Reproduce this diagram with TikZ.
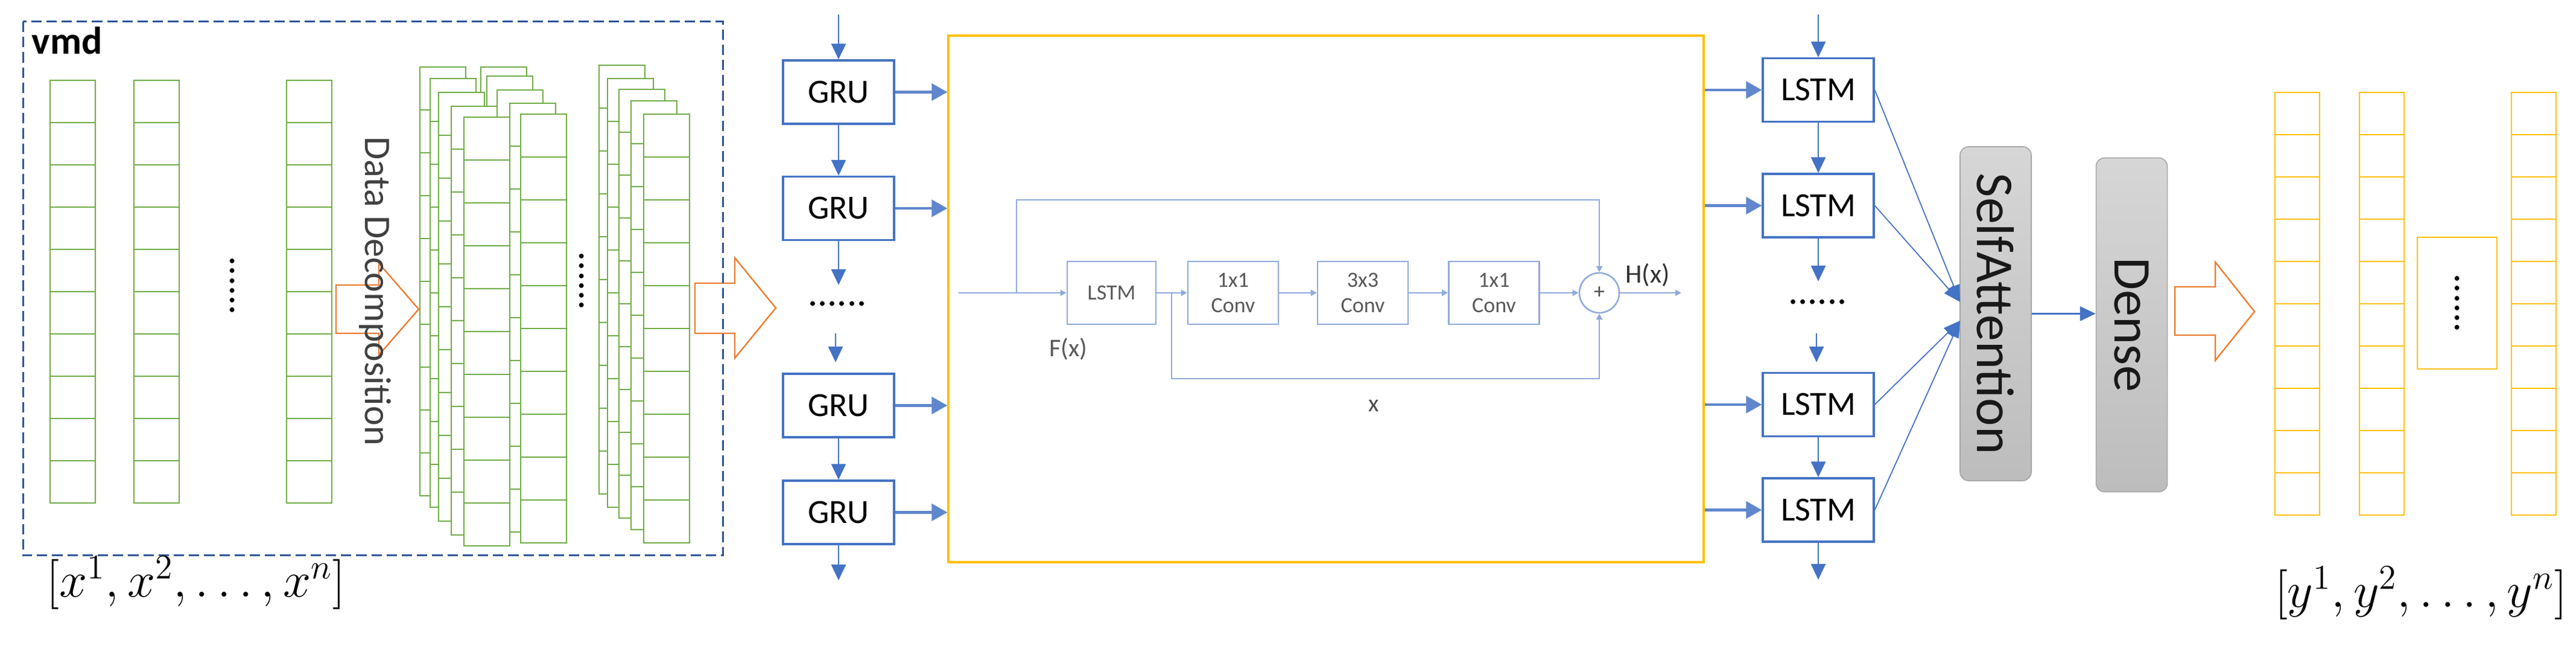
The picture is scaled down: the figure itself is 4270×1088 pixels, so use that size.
\documentclass[tikz,border=0pt]{standalone}
\usepackage[no-math]{fontspec}
\setmainfont{Carlito}
\usetikzlibrary{arrows.meta}

\definecolor{cgreen}{HTML}{70AD47}
\definecolor{cyellow}{HTML}{FFC000}
\definecolor{corange}{HTML}{ED7D31}
\definecolor{cblue}{HTML}{4472C4}
\definecolor{clight}{HTML}{8FAADC}
\definecolor{cdash}{HTML}{2F5597}
\definecolor{ctext}{HTML}{404040}

\begin{document}
\begin{tikzpicture}[
  x=0.25pt, y=-0.25pt,
  gcell/.style={draw=cgreen, fill=white, line width=0.7pt},
  ycell/.style={draw=cyellow, fill=white, line width=0.7pt},
  gcol/.pic={\foreach \k in {0,...,9} \draw[gcell] (0,70*\k) rectangle ++(75,70);},
  scol/.pic={\foreach \k in {0,...,9} \draw[gcell] (0,71*\k) rectangle ++(76,71);},
  ycol/.pic={\foreach \k in {0,...,9} \draw[ycell] (0,70*\k) rectangle ++(74,70);},
  barrow/.style={cblue, line width=0.65pt, -{Triangle[length=6.5pt,width=6pt]}},
  warrow/.style={cblue!85!white, line width=1.1pt, -{Triangle[length=6.5pt,width=7pt]}},
  carrow/.style={cblue, line width=0.45pt, -{Triangle[length=7pt,width=5pt]}},
  rline/.style={clight, line width=0.65pt, -{Triangle[length=2.5pt,width=2.5pt]}},
  bigarrow/.style={draw=corange, fill=white, line width=0.6pt},
  rnn/.style={draw=cblue, line width=0.8pt, minimum width=46pt, minimum height=26.25pt,
    inner sep=0pt, font=\fontsize{14}{16}\selectfont},
  rbox/.style={draw=clight, line width=0.65pt, minimum width=37.5pt, minimum height=26pt,
    inner sep=0pt, align=center, text=black!65, font=\fontsize{9}{10.5}\selectfont},
  gbar/.style={draw=black!35, rounded corners=3.5pt, top color=black!16, bottom color=black!26,
    minimum width=29.5pt, minimum height=138.25pt, inner sep=0pt, text=black!90,
    font=\fontsize{22}{24}\selectfont},
  dots/.style={font=\fontsize{16}{18}\selectfont, inner sep=0pt},
  mathlab/.style={font=\fontsize{20}{24}\selectfont, inner sep=0pt}
]
  \useasboundingbox (0,0) rectangle (4270,1088);

  % input series
  \pic at (83,133) {gcol};
  \pic at (222,133) {gcol};
  \pic at (475,133) {gcol};
  \node[dots, rotate=90] (xdots) at (385,473) {......};

  % decomposed modes
  \pic at (696,111) {scol};
  \pic at (797,111) {scol};
  \pic at (713,130) {scol};
  \pic at (807,126) {scol};
  \pic at (727,153) {scol};
  \pic at (824,149) {scol};
  \pic at (748,176) {scol};
  \pic at (845,171) {scol};
  \pic at (769,194) {scol};
  \pic at (863,189) {scol};
  \node[dots, rotate=90] (sdots) at (964,465) {......};
  \pic at (993,108) {scol};
  \pic at (1007,130) {scol};
  \pic at (1026,148) {scol};
  \pic at (1046,167) {scol};
  \pic at (1067,189) {scol};

  % block arrows
  \draw[bigarrow] (557,472) -- (628,472) -- (628,436) -- (694,512) -- (628,588) -- (628,552) -- (557,552) -- cycle;
  \draw[bigarrow] (1152,469) -- (1218,469) -- (1218,427) -- (1286,510) -- (1218,593) -- (1218,552) -- (1152,552) -- cycle;

  % vmd frame
  \node[text=ctext, font=\fontsize{15.5}{18}\selectfont, inner sep=0pt] (ddec) at (622,482) {\rotatebox{-90}{Data Decomposition}};
  \draw[cdash, line width=0.75pt, dash pattern=on 4.3pt off 2pt] (38,36) rectangle (1198,920);
  \node[anchor=base west, inner sep=0pt, font=\bfseries\fontsize{16}{18}\selectfont] (vmd) at (52,90) {vmd};
  \node[mathlab] (xin) at (325,965) {$[x^1,x^2,\ldots,x^n]$};

  % gru layer
  \node[rnn] (gru1) at (1390,152.5) {GRU};
  \node[rnn] (gru2) at (1390,345) {GRU};
  \node[dots] (gdots) at (1388,503) {......};
  \node[rnn] (gru3) at (1390,671.5) {GRU};
  \node[rnn] (gru4) at (1390,848.5) {GRU};
  \coordinate (gtop) at (1390,24);
  \coordinate (gmid1) at (1390,472);
  \coordinate (gmid2) at (1385,552);
  \coordinate (gmid3) at (1385,600);
  \coordinate (gbot) at (1390,961);

  % residual block
  \node[draw=cyellow, line width=0.8pt, minimum width=313pt, minimum height=218pt] (res) at (2198,495) {};
  \node[rbox, minimum width=36.75pt] (rlstm) at (1842.5,485) {LSTM};
  \node[rbox] (conv1) at (2044,485) {1x1\\Conv};
  \node[rbox] (conv2) at (2259,485) {3x3\\Conv};
  \node[rbox] (conv3) at (2476.5,485) {1x1\\Conv};
  \node[draw=clight, circle, line width=0.65pt, minimum size=16.5pt, inner sep=0pt, text=black!70,
    font=\fontsize{9}{10}\selectfont] (plus) at (2651,485) {+};
  \node[text=black!65, font=\fontsize{10.5}{12}\selectfont] (fx) at (1771,578) {F(x)};
  \node[text=black!70, font=\fontsize{10}{12}\selectfont] (xlab) at (2277,672) {x};
  \node[text=black!80, font=\fontsize{11}{12}\selectfont] (hx) at (2731,455) {H(x)};
  \coordinate (rin) at (1589,485);
  \coordinate (tsplit) at (1685,485);
  \coordinate (bsplit) at (1942,485);
  \coordinate (rout) at (2787,485);

  % lstm layer
  \node[rnn] (lstm1) at (3014,149) {LSTM};
  \node[rnn] (lstm2) at (3014,340.5) {LSTM};
  \node[dots] (ldots) at (3013,500) {......};
  \node[rnn] (lstm3) at (3014,670) {LSTM};
  \node[rnn] (lstm4) at (3014,844.5) {LSTM};
  \coordinate (ltop) at (3014,24);
  \coordinate (lmid1) at (3014,466);
  \coordinate (lmid2) at (3011,552);
  \coordinate (lmid3) at (3011,600);
  \coordinate (lbot) at (3014,960);

  % attention and dense
  \node[gbar] (att) at (3308,519.5) {\rotatebox{-90}{SelfAttention}};
  \node[gbar] (dense) at (3533.5,538) {\rotatebox{-90}{Dense}};
  \coordinate (ain1) at (3249,500);
  \coordinate (ain2) at (3249,531);

  % output series
  \draw[bigarrow] (3605,475) -- (3672,475) -- (3672,434) -- (3737,516) -- (3672,597) -- (3672,555) -- (3605,555) -- cycle;
  \pic at (3771,153) {ycol};
  \pic at (3911,153) {ycol};
  \node[draw=cyellow, line width=0.7pt, minimum width=33pt, minimum height=54.5pt, inner sep=0pt,
    font=\fontsize{16}{18}\selectfont] (ymid) at (4073,502) {\rotatebox{90}{......}};
  \pic at (4163,153) {ycol};
  \node[mathlab] (yout) at (4013,982) {$[y^1,y^2,\ldots,y^n]$};

  % gru edges
  \draw[barrow] (gtop) -- (gru1);
  \draw[barrow] (gru1) -- (gru2);
  \draw[barrow] (gru2) -- (gmid1);
  \draw[barrow] (gmid2) -- (gmid3);
  \draw[barrow] (gru3) -- (gru4);
  \draw[barrow] (gru4) -- (gbot);
  \draw[warrow] (gru1.east) -- (gru1.east -| res.west);
  \draw[warrow] (gru2.east) -- (gru2.east -| res.west);
  \draw[warrow] (gru3.east) -- (gru3.east -| res.west);
  \draw[warrow] (gru4.east) -- (gru4.east -| res.west);

  % residual edges
  \draw[rline] (rin) -- (rlstm);
  \draw[rline] (tsplit) -- ++(0,-154) -| (plus.north);
  \draw[rline] (rlstm) -- (conv1);
  \draw[rline] (bsplit) -- ++(0,142) -| (plus.south);
  \draw[rline] (conv1) -- (conv2);
  \draw[rline] (conv2) -- (conv3);
  \draw[rline] (conv3) -- (plus);
  \draw[rline] (plus) -- (rout);

  % lstm edges
  \draw[warrow] (lstm1.west -| res.east) -- (lstm1.west);
  \draw[warrow] (lstm2.west -| res.east) -- (lstm2.west);
  \draw[warrow] (lstm3.west -| res.east) -- (lstm3.west);
  \draw[warrow] (lstm4.west -| res.east) -- (lstm4.west);
  \draw[barrow] (ltop) -- (lstm1);
  \draw[barrow] (lstm1) -- (lstm2);
  \draw[barrow] (lstm2) -- (lmid1);
  \draw[barrow] (lmid2) -- (lmid3);
  \draw[barrow] (lstm3) -- (lstm4);
  \draw[barrow] (lstm4) -- (lbot);

  % attention edges
  \draw[carrow] (lstm1.east) -- (ain1);
  \draw[carrow] (lstm2.east) -- (ain1);
  \draw[carrow] (lstm3.east) -- (ain2);
  \draw[carrow] (lstm4.east) -- (ain2);
  \draw[barrow] (att.east) -- (att.east -| dense.west);

\end{tikzpicture}
\end{document}
